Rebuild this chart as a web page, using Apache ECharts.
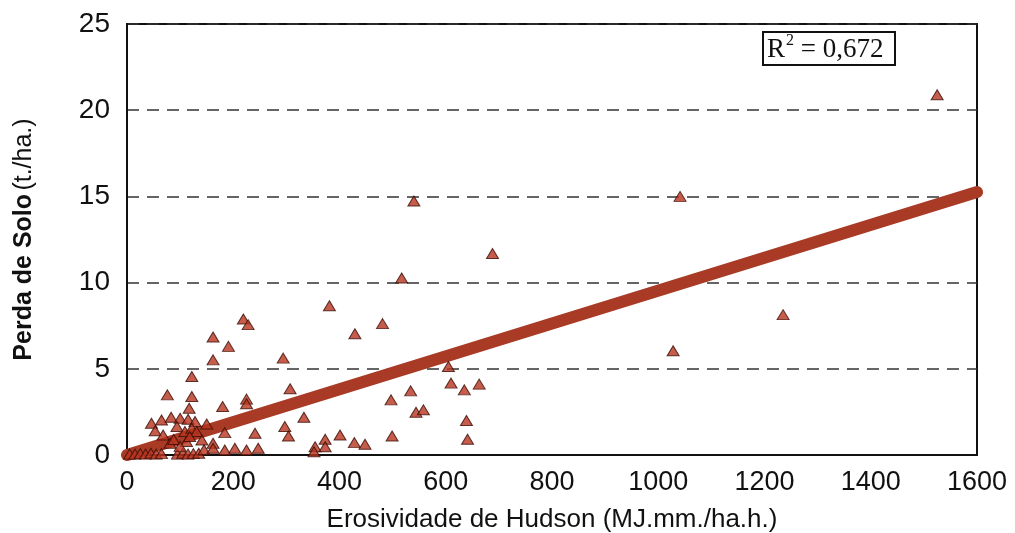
<!DOCTYPE html>
<html>
<head>
<meta charset="utf-8">
<script src="https://cdn.jsdelivr.net/npm/echarts@6/dist/echarts.min.js"></script>
<style>
  html, body { margin: 0; padding: 0; background: #fff; }
  #chart { width: 1015px; height: 533px; }
</style>
</head>
<body>
<div id="chart"></div>
<script>
// Erosividade (MJ.mm./ha.h.) x perda de solo (t./ha.) por evento
const erosividade = [
  5, 15, 25, 35, 45, 55, 65, 95, 105, 115, 125, 135,
  46, 65, 83, 100, 115, 128,
  53, 68, 94, 109, 122, 131,
  76, 122, 117, 122,
  81, 112, 141, 162, 118, 88, 100, 150, 145,
  162, 162, 191, 219, 228,
  180, 225, 225, 184, 241, 297, 304, 294,
  162, 184, 203, 225, 247,
  307, 333, 354, 352, 373, 373, 401, 428, 448, 499, 497, 534, 544, 558,
  605, 610, 635, 663, 639, 641,
  381, 429, 481, 517, 540, 688,
  1028, 1041, 1235, 1525
];
const perdaSolo = [
  0.05, 0.05, 0.08, 0.05, 0.1, 0.05, 0.08, 0.05, 0.1, 0.05, 0.08, 0.1,
  1.84, 2.03, 2.19, 2.13, 2.07, 1.94,
  1.41, 1.16, 1.65, 1.36, 1.55, 1.36,
  3.49, 3.39, 2.71, 4.55,
  0.68, 0.78, 0.87, 0.68, 1.07, 0.9, 0.5, 1.8, 0.3,
  5.52, 6.84, 6.30, 7.89, 7.56,
  2.81, 3.24, 2.97, 1.30, 1.26, 1.65, 1.1, 5.62,
  0.39, 0.29, 0.39, 0.29, 0.39,
  3.84, 2.19, 0.48, 0.19, 0.91, 0.48, 1.16, 0.72, 0.62, 1.1, 3.2, 3.72, 2.48, 2.62,
  5.13, 4.17, 3.78, 4.11, 2.0, 0.91,
  8.66, 7.03, 7.62, 10.27, 14.73, 11.69,
  6.05, 15.0, 8.14, 20.9
];

// Reta de regressão (extremos)
const retaX = [0, 1600];
const retaY = [0, 15.25];
const r2Valor = '0,672';

const xTicks = [0, 200, 400, 600, 800, 1000, 1200, 1400, 1600];
const yTicks = [0, 5, 10, 15, 20, 25];

const pontos = erosividade.map((x, i) => [x, perdaSolo[i]]);
const reta = retaX.map((x, i) => [x, retaY[i]]);

const chart = echarts.init(document.getElementById('chart'), null, { renderer: 'canvas' });

chart.setOption({
  animation: false,
  backgroundColor: '#ffffff',
  title: {
    text: '{t|R}{s|2}{t| = ' + r2Valor + '}',
    left: 763,
    top: 32,
    padding: [1, 12, 2, 4],
    borderColor: '#111',
    borderWidth: 2,
    textStyle: {
      fontWeight: 'normal',
      rich: {
        t: { fontFamily: 'Liberation Serif', fontSize: 27, fontWeight: 'normal', color: '#111', verticalAlign: 'bottom', lineHeight: 30 },
        s: { fontFamily: 'Liberation Serif', fontSize: 16, fontWeight: 'normal', color: '#111', verticalAlign: 'top', lineHeight: 30, padding: [0, 0, 10, 1] }
      }
    }
  },
  grid: {
    left: 127,
    right: 38,
    top: 24,
    bottom: 78,
    outerBoundsMode: 'none',
    containLabel: false,
    show: true,
    borderColor: '#111',
    borderWidth: 2
  },
  xAxis: {
    type: 'value',
    min: xTicks[0],
    max: xTicks[xTicks.length - 1],
    interval: 200,
    name: 'Erosividade de Hudson (MJ.mm./ha.h.)',
    nameLocation: 'middle',
    nameGap: 52,
    nameTextStyle: { fontFamily: 'Liberation Sans', fontSize: 26, color: '#111' },
    axisLine: { show: true, lineStyle: { color: '#111', width: 2 } },
    axisTick: { show: false },
    splitLine: { show: false },
    axisLabel: {
      fontFamily: 'Liberation Sans', fontSize: 27, color: '#111', margin: 14,
      formatter: (v) => String(v)
    }
  },
  yAxis: {
    type: 'value',
    min: yTicks[0],
    max: yTicks[yTicks.length - 1],
    interval: 5,
    name: '{b|Perda de Solo} {n|(t./ha.)}',
    nameLocation: 'middle',
    nameRotate: 90,
    nameGap: 90,
    nameTextStyle: {
      rich: {
        b: { fontFamily: 'Liberation Sans', fontSize: 25, fontWeight: 'bold', color: '#111' },
        n: { fontFamily: 'Liberation Sans', fontSize: 25, color: '#111' }
      }
    },
    axisLine: { show: true, lineStyle: { color: '#111', width: 2 } },
    axisTick: { show: false },
    splitLine: { show: true, lineStyle: { color: '#333', width: 1.5, type: [12, 8] } },
    axisLabel: {
      fontFamily: 'Liberation Sans', fontSize: 28, color: '#111', margin: 17,
      formatter: (v) => String(v)
    }
  },
  series: [
    {
      type: 'line',
      data: reta,
      showSymbol: false,
      clip: false,
      z: 2,
      lineStyle: { color: '#a93b26', width: 12, cap: 'round' }
    },
    {
      type: 'scatter',
      data: pontos,
      symbol: 'triangle',
      symbolSize: [12, 10],
      z: 3,
      itemStyle: { color: '#b8351f', borderColor: '#3a0d05', borderWidth: 1 }
    }
  ]
});
</script>
</body>
</html>
